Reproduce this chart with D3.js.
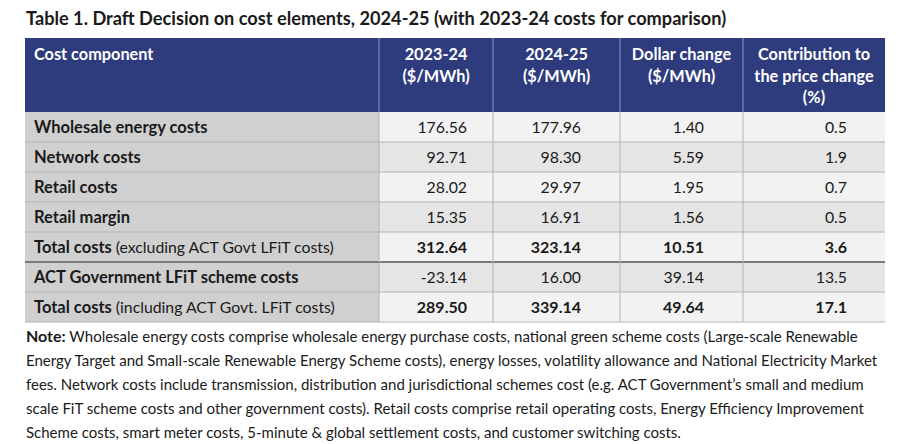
<!DOCTYPE html>
<html>
<head>
<meta charset="utf-8">
<script src="https://cdn.jsdelivr.net/npm/d3@7"></script>
<style>
  body { margin: 0; background: #fff; }
  svg text { font-family: Lato, "Open Sans", sans-serif; fill: #1a1a1a; }
</style>
</head>
<body>
<div id="chart"></div>
<script>
const navy = "#2e3c7e"
const labelBg = "#d0d0d0"
const rowLight = "#f2f2f2"
const rowDark = "#e5e5e5"
const gridColor = "#b3b3b3"

const title = "Table 1. Draft Decision on cost elements, 2024-25 (with 2023-24 costs for comparison)"

const columns = ["label", "y2324", "y2425", "change", "contrib"]
const headerLines = [
  ["Cost component"],
  ["2023-24", "($/MWh)"],
  ["2024-25", "($/MWh)"],
  ["Dollar change", "($/MWh)"],
  ["Contribution to", "the price change", "(%)"]
]

// row labels: [bold part, normal part]
const rowLabels = [
  ["Wholesale energy costs", ""],
  ["Network costs", ""],
  ["Retail costs", ""],
  ["Retail margin", ""],
  ["Total costs", " (excluding ACT Govt LFiT costs)"],
  ["ACT Government LFiT scheme costs", ""],
  ["Total costs", " (including ACT Govt. LFiT costs)"]
]
const costs2324 = ["176.56", "92.71", "28.02", "15.35", "312.64", "-23.14", "289.50"]
const costs2425 = ["177.96", "98.30", "29.97", "16.91", "323.14", "16.00", "339.14"]
const dollarChange = ["1.40", "5.59", "1.95", "1.56", "10.51", "39.14", "49.64"]
const contribution = ["0.5", "1.9", "0.7", "0.5", "3.6", "13.5", "17.1"]
const boldRows = [false, false, false, false, true, false, true]
const shadeRows = [false, true, false, true, false, true, false]

const noteLines = [
  [["Note:", true], [" Wholesale energy costs comprise wholesale energy purchase costs, national green scheme costs (Large-scale Renewable", false]],
  [["Energy Target and Small-scale Renewable Energy Scheme costs), energy losses, volatility allowance and National Electricity Market", false]],
  [["fees. Network costs include transmission, distribution and jurisdictional schemes cost (e.g. ACT Government\u2019s small and medium", false]],
  [["scale FiT scheme costs and other government costs). Retail costs comprise retail operating costs, Energy Efficiency Improvement", false]],
  [["Scheme costs, smart meter costs, 5-minute & global settlement costs, and customer switching costs.", false]]
]

const rows = rowLabels.map((l, i) => ({
  label: l,
  values: [costs2324[i], costs2425[i], dollarChange[i], contribution[i]],
  bold: boldRows[i],
  shade: shadeRows[i]
}))

const W = 900, H = 444
const svg = d3.select("#chart").append("svg")
      .attr("width", W)
      .attr("height", H)

// column geometry
const colLeft = d3.scaleOrdinal().domain(columns).range([25, 379, 493, 620, 743])
const colRight = d3.scaleOrdinal().domain(columns).range([379, 493, 620, 743, 885])
// right edge of number text in each value column
const numRight = d3.scaleOrdinal().domain(columns.slice(1)).range([467, 581, 704, 847])

const headTop = 38, headBottom = 112
const y = d3.scaleBand()
      .domain(d3.range(rows.length))
      .range([headBottom, 322])

// title
svg.append("text")
  .attr("x", 26)
  .attr("y", 25)
  .attr("font-size", "18.2px")
  .attr("font-weight", "bold")
  .text(title)

//////////////////////////////////////////////////////////////
//                         header
//////////////////////////////////////////////////////////////
svg.append("rect")
  .attr("x", colLeft("label"))
  .attr("y", headTop)
  .attr("width", colRight("contrib") - colLeft("label"))
  .attr("height", headBottom - headTop)
  .attr("fill", navy)

svg.selectAll(".hsep")
  .data(columns.slice(1))
  .enter().append("line")
  .attr("class", "hsep")
  .attr("x1", colLeft).attr("x2", colLeft)
  .attr("y1", headTop).attr("y2", headBottom)
  .attr("stroke", "#8d96bf")
  .attr("stroke-width", 1)

const head = svg.selectAll(".head")
      .data(columns)
      .enter().append("text")
      .attr("class", "head")
      .attr("font-size", "16.3px")
      .attr("font-weight", "bold")
      .style("fill", "#fff")
      .attr("text-anchor", c => c === "label" ? "start" : "middle")
      .attr("x", c => c === "label" ? colLeft(c) + 9 : (colLeft(c) + colRight(c)) / 2)
      .attr("y", 60)

head.selectAll("tspan")
  .data((c, i) => headerLines[i])
  .enter().append("tspan")
  .attr("x", function() { return d3.select(this.parentNode).attr("x") })
  .attr("dy", (d, i) => i === 0 ? 0 : 21.5)
  .text(d => d)

//////////////////////////////////////////////////////////////
//                         body
//////////////////////////////////////////////////////////////
const rowG = svg.selectAll(".row")
      .data(rows)
      .enter().append("g")
      .attr("class", "row")
      .attr("transform", (d, i) => `translate(0,${y(i)})`)

rowG.append("rect")
  .attr("x", colLeft("label"))
  .attr("width", colRight("label") - colLeft("label"))
  .attr("height", y.bandwidth())
  .attr("fill", labelBg)

rowG.append("rect")
  .attr("x", colLeft("y2324"))
  .attr("width", colRight("contrib") - colLeft("y2324"))
  .attr("height", y.bandwidth())
  .attr("fill", d => d.shade ? rowDark : rowLight)

const lbl = rowG.append("text")
      .attr("x", colLeft("label") + 9)
      .attr("y", y.bandwidth() / 2 + 6)

lbl.append("tspan").attr("font-weight", "bold").attr("font-size", "16.5px").text(d => d.label[0])
lbl.append("tspan").attr("font-size", "15.8px").text(d => d.label[1])

rowG.selectAll(".val")
  .data(d => d.values.map((v, j) => ({v: v, col: columns[j + 1], bold: d.bold})))
  .enter().append("text")
  .attr("class", "val")
  .attr("text-anchor", "end")
  .attr("x", d => numRight(d.col))
  .attr("y", y.bandwidth() / 2 + 6)
  .attr("font-size", d => d.bold ? "16px" : "15.8px")
  .attr("font-weight", d => d.bold ? "bold" : "normal")
  .text(d => d.v)

// horizontal grid lines
svg.selectAll(".hline")
  .data(d3.range(1, rows.length + 1))
  .enter().append("line")
  .attr("class", "hline")
  .attr("x1", colLeft("label")).attr("x2", colRight("contrib"))
  .attr("y1", i => i < rows.length ? y(i) : y.range()[1])
  .attr("y2", i => i < rows.length ? y(i) : y.range()[1])
  .attr("stroke", i => i === 5 ? "#7a7a7a" : gridColor)
  .attr("stroke-width", i => i === 5 ? 2 : 1)

// vertical grid lines
svg.selectAll(".vline")
  .data(columns.slice(1))
  .enter().append("line")
  .attr("class", "vline")
  .attr("x1", colLeft).attr("x2", colLeft)
  .attr("y1", headBottom).attr("y2", y.range()[1])
  .attr("stroke", gridColor)

//////////////////////////////////////////////////////////////
//                         note
//////////////////////////////////////////////////////////////
const note = svg.selectAll(".note")
      .data(noteLines)
      .enter().append("text")
      .attr("class", "note")
      .attr("x", 26)
      .attr("y", (d, i) => 342 + i * 24)
      .attr("font-size", "15px")

note.selectAll("tspan")
  .data(d => d)
  .enter().append("tspan")
  .attr("font-weight", d => d[1] ? "bold" : "normal")
  .attr("font-size", d => d[1] ? "16px" : null)
  .text(d => d[0])
</script>
</body>
</html>
